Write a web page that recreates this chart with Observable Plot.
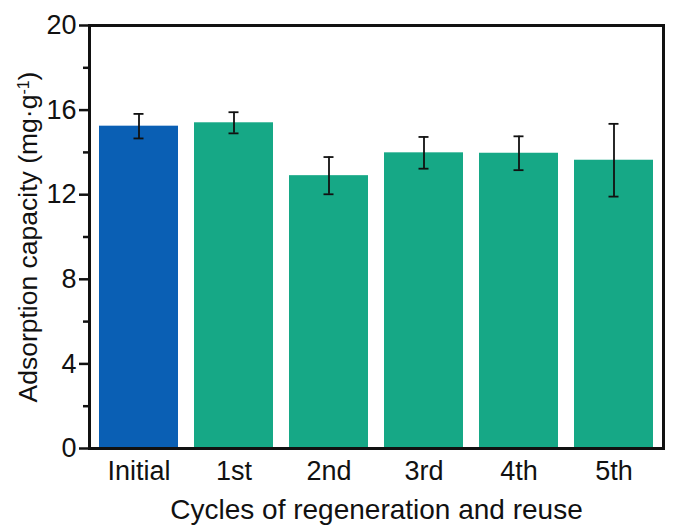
<!DOCTYPE html>
<html>
<head>
<meta charset="utf-8">
<script src="https://cdn.jsdelivr.net/npm/d3@7"></script>
<script src="https://cdn.jsdelivr.net/npm/@observablehq/plot@0.6"></script>
<style>
  html, body { margin: 0; padding: 0; background: #fff; }
  #chart svg { display: block; }
</style>
</head>
<body>
<div id="chart"></div>
<script>
const categories = ["Initial", "1st", "2nd", "3rd", "4th", "5th"];
const capacity = [15.24, 15.40, 12.90, 13.98, 13.96, 13.63];
const errors = [0.58, 0.50, 0.88, 0.75, 0.80, 1.72];
const barColors = ["#0A5FB4", "#16A886", "#16A886", "#16A886", "#16A886", "#16A886"];
const yMajorTicks = [0, 4, 8, 12, 16, 20];
const yMinorTicks = [2, 6, 10, 14, 18];
const xTitle = "Cycles of regeneration and reuse";
const yTitle = "Adsorption capacity (mg·g-1)";

const data = categories.map((c, i) => ({
  cycle: c,
  value: capacity[i],
  lo: capacity[i] - errors[i],
  hi: capacity[i] + errors[i],
  color: barColors[i]
}));

const font = "'Liberation Sans', Arial, Helvetica, sans-serif";

const chart = Plot.plot({
  width: 673,
  height: 526,
  marginLeft: 89,
  marginRight: 10,
  marginTop: 25,
  marginBottom: 78,
  style: { fontFamily: font, color: "#111", background: "#fff" },
  x: { domain: categories, paddingInner: 0.17, paddingOuter: 0.085, label: null },
  y: { domain: [0, 20], label: null },
  marks: [
    Plot.barY(data, { x: "cycle", y: "value", fill: "color" }),
    Plot.ruleX(data, { x: "cycle", y1: "lo", y2: "hi", stroke: "#111", strokeWidth: 1.8 }),
    Plot.tickY(data, { x: "cycle", y: "lo", stroke: "#111", strokeWidth: 1.8, insetLeft: 34.5, insetRight: 34.5 }),
    Plot.tickY(data, { x: "cycle", y: "hi", stroke: "#111", strokeWidth: 1.8, insetLeft: 34.5, insetRight: 34.5 }),
    Plot.axisY(yMajorTicks, { tickSize: 10, tickPadding: 3, fontSize: 27, strokeWidth: 2.5, label: yTitle, labelAnchor: "center", labelArrow: "none", labelOffset: 71 }),
    Plot.axisY(yMinorTicks, { tickSize: 6, strokeWidth: 2.5, tickFormat: () => "", label: null }),
    Plot.axisX({ tickSize: 0, tickPadding: 12, fontSize: 27, label: xTitle, labelAnchor: "center", labelArrow: "none", labelOffset: 70 }),
    Plot.frame({ stroke: "#111", strokeWidth: 3 })
  ]
});

document.getElementById("chart").appendChild(chart);

// font sizes and superscript
const svg = d3.select(chart);
svg.selectAll('g[aria-label="x-axis label"], g[aria-label="x-axis label"] text').attr("font-size", 28);
const yl = svg.select('g[aria-label="y-axis label"] text');
if (!yl.empty()) {
  yl.attr("font-size", 26.5);
  yl.text(null);
  yl.append("tspan").text("Adsorption capacity (mg·g");
  yl.append("tspan").attr("baseline-shift", "super").attr("font-size", 16).text("-1");
  yl.append("tspan").text(")");
}
</script>
</body>
</html>
